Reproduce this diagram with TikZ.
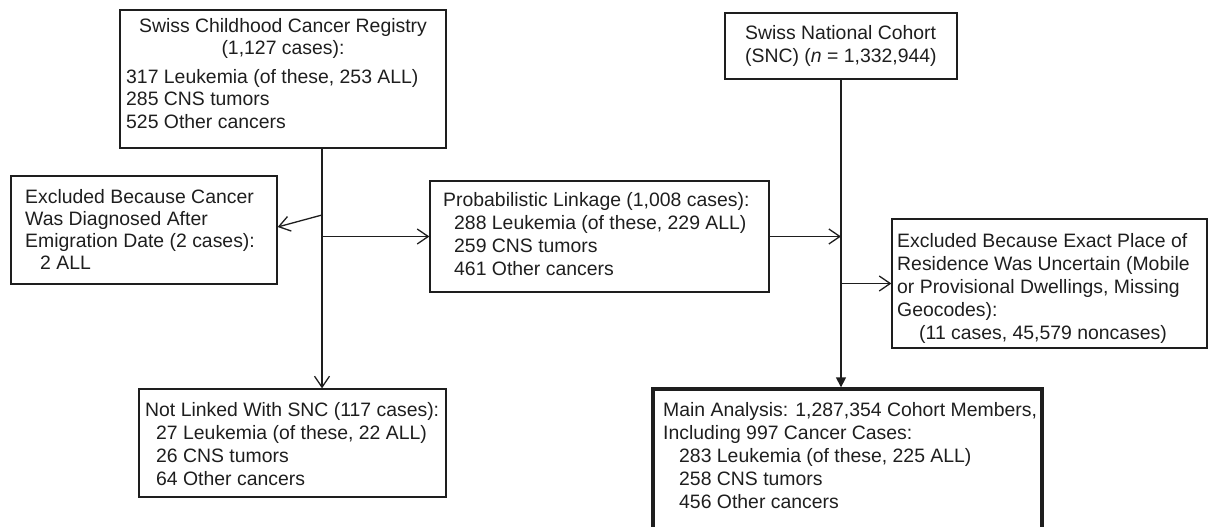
\documentclass[tikz,border=0pt]{standalone}
\usepackage{fontspec}
\setmainfont{Liberation Sans}
\usetikzlibrary{arrows.meta}
\definecolor{ink}{HTML}{1E1E1E}
\tikzset{
  box/.style={draw=ink, line width=1.3pt, inner sep=0pt, rectangle},
  mainbox/.style={draw=ink, line width=3.4pt, inner sep=0pt, rectangle},
  txt/.style={inner sep=0pt, anchor=base west, align=left, text=ink,
    font=\fontsize{19.4}{23}\selectfont},
  arr/.style={draw=ink, line width=1.3pt, -{Straight Barb[length=11pt,width=15pt,line width=1.3pt]}},
  arrf/.style={draw=ink, line width=1.6pt, -{Triangle[length=10pt,width=10pt]}},
}
\begin{document}
\begin{tikzpicture}[x=1pt,y=-1pt]
\useasboundingbox (0,0) rectangle (1210,527);
\clip (0,0) rectangle (1210,527);
% boxes
\node[box, minimum width=326pt, minimum height=138pt] (sccr) at (283,79) {};
\node[box, minimum width=266pt, minimum height=108pt] (emig) at (144,230) {};
\node[box, minimum width=339pt, minimum height=111pt] (prob) at (599.5,236.5) {};
\node[box, minimum width=232pt, minimum height=66pt] (snc) at (841,46) {};
\node[box, minimum width=315pt, minimum height=129pt] (res) at (1049.5,283.5) {};
\node[box, minimum width=307pt, minimum height=108pt] (nl) at (292.5,443) {};
\node[mainbox, minimum width=389pt, minimum height=156pt] (main) at (847.5,467) {};
% texts (anchored at the baseline of their last line)
\node[txt, anchor=base, align=center, font=\fontsize{19.4}{21.5}\selectfont] (sccrH) at (283,54.5)
  {Swiss Childhood Cancer Registry\\(1,127 cases):};
\node[txt, font=\fontsize{19.4}{22.5}\selectfont] (sccrL) at (126,128)
  {317 Leukemia (of these, 253 ALL)\\285 CNS tumors\\525 Other cancers};
\node[txt, font=\fontsize{19.4}{22}\selectfont] (emigT) at (25,269)
  {Excluded Because Cancer\\Was Diagnosed After\\Emigration Date (2 cases):\\\hspace*{15pt}2 ALL};
\node[txt] (probT) at (443,275)
  {Probabilistic Linkage (1,008 cases):\\\hspace*{11pt}288 Leukemia (of these, 229 ALL)\\\hspace*{11pt}259 CNS tumors\\\hspace*{11pt}461 Other cancers};
\node[txt] (sncT) at (745,63)
  {Swiss National Cohort\\(SNC) (\textit{n} = 1,332,944)};
\node[txt] (resT) at (897,339)
  {Excluded Because Exact Place of\\Residence Was Uncertain (Mobile\\or Provisional Dwellings, Missing\\Geocodes):\\\hspace*{22pt}(11 cases, 45,579 noncases)};
\node[txt] (nlT) at (145,485)
  {Not Linked With SNC (117 cases):\\\hspace*{11pt}27 Leukemia (of these, 22 ALL)\\\hspace*{11pt}26 CNS tumors\\\hspace*{11pt}64 Other cancers};
\node[txt] (mainT) at (663,508)
  {Main Analysis: 1,287,354 Cohort Members,\\Including 997 Cancer Cases:\\\hspace*{16pt}283 Leukemia (of these, 225 ALL)\\\hspace*{16pt}258 CNS tumors\\\hspace*{16pt}456 Other cancers};
% connectors
\coordinate (tk) at (322,215);
\draw[arr] (sccr.south -| tk) -- (nl.north -| tk);
\draw[arr] (tk) -- ([yshift=3pt]emig.east);
\draw[arr] (prob.west -| tk) -- (prob.west);
\draw[arr] (prob.east) -- (prob.east -| snc.south);
\draw[arrf] (snc.south) -- (snc.south |- main.north);
\draw[arr] (snc.south |- res.west) -- (res.west);
\end{tikzpicture}
\end{document}
